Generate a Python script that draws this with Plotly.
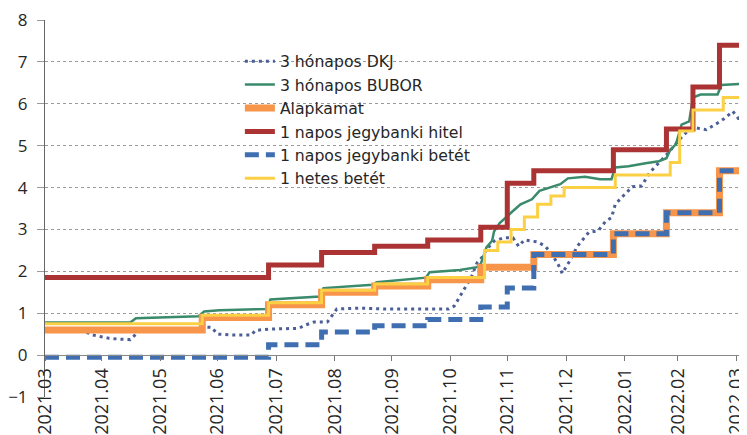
import plotly.graph_objects as go

# ---------------- data ----------------
tick_dates = ["2021-03-31", "2021-04-30", "2021-05-31", "2021-06-30", "2021-07-31",
              "2021-08-31", "2021-09-30", "2021-10-31", "2021-11-30", "2021-12-31",
              "2022-01-31", "2022-02-28", "2022-03-31"]
tick_labels = ["2021.03", "2021.04", "2021.05", "2021.06", "2021.07", "2021.08",
               "2021.09", "2021.10", "2021.11", "2021.12", "2022.01", "2022.02", "2022.03"]

dkj_dates = ["2021-03-31", "2021-04-21", "2021-04-24", "2021-04-29", "2021-05-04", "2021-05-10",
             "2021-05-15", "2021-05-18", "2021-05-20", "2021-06-20", "2021-06-24", "2021-06-27",
             "2021-06-30", "2021-07-09", "2021-07-18", "2021-07-20", "2021-07-27", "2021-08-04",
             "2021-08-12", "2021-08-15", "2021-08-20", "2021-08-27", "2021-08-29", "2021-09-01",
             "2021-09-13", "2021-09-28", "2021-10-14", "2021-10-30", "2021-11-02", "2021-11-05",
             "2021-11-08", "2021-11-11", "2021-11-14", "2021-11-17", "2021-11-19", "2021-11-23",
             "2021-11-28", "2021-12-03", "2021-12-06", "2021-12-09", "2021-12-16", "2021-12-20",
             "2021-12-23", "2021-12-27", "2021-12-29", "2022-01-02", "2022-01-06", "2022-01-12",
             "2022-01-17", "2022-01-21", "2022-01-24", "2022-01-26", "2022-01-31", "2022-02-04",
             "2022-02-09", "2022-02-13", "2022-02-18", "2022-02-23", "2022-03-01", "2022-03-05",
             "2022-03-10", "2022-03-15", "2022-03-21", "2022-03-25", "2022-03-29", "2022-04-01",
             "2022-04-05"]
dkj_values = [0.58, 0.58, 0.49, 0.45, 0.40, 0.38,
              0.37, 0.50, 0.58, 0.60, 0.67, 0.66,
              0.50, 0.48, 0.48, 0.59, 0.62, 0.63,
              0.64, 0.71, 0.79, 0.79, 0.91, 1.10,
              1.12, 1.10, 1.10, 1.10, 1.17, 1.39,
              1.62, 1.86, 2.20, 2.35, 2.52, 2.72,
              2.80, 2.80, 2.60, 2.75, 2.70, 2.60,
              2.45, 2.15, 1.95, 2.25, 2.60, 2.93,
              2.97, 3.20, 3.28, 3.60, 3.84, 4.02,
              4.04, 4.35, 4.59, 4.83, 5.15, 5.34,
              5.42, 5.38, 5.54, 5.66, 5.82, 5.65,
              5.64]

bubor_dates = ["2021-03-31", "2021-05-15", "2021-05-18", "2021-06-20", "2021-06-23", "2021-07-01",
               "2021-07-26", "2021-07-28", "2021-08-23", "2021-08-25", "2021-09-20", "2021-09-22",
               "2021-10-18", "2021-10-20", "2021-11-05", "2021-11-14", "2021-11-16", "2021-11-19",
               "2021-11-22", "2021-11-23", "2021-11-26", "2021-11-30", "2021-12-03", "2021-12-07",
               "2021-12-13", "2021-12-17", "2021-12-22", "2021-12-28", "2022-01-01", "2022-01-10",
               "2022-01-18", "2022-01-24", "2022-01-26", "2022-02-02", "2022-02-11", "2022-02-18",
               "2022-02-22", "2022-02-24", "2022-02-27", "2022-03-02", "2022-03-06", "2022-03-08",
               "2022-03-12", "2022-03-21", "2022-03-23", "2022-04-05"]
bubor_values = [0.78, 0.78, 0.88, 0.93, 1.04, 1.07,
                1.10, 1.33, 1.40, 1.60, 1.68, 1.74,
                1.85, 1.98, 2.03, 2.10, 2.18, 2.57,
                2.73, 2.95, 3.15, 3.33, 3.44, 3.60,
                3.72, 3.92, 4.00, 4.08, 4.22, 4.26,
                4.20, 4.20, 4.48, 4.51, 4.58, 4.63,
                4.70, 4.90, 5.03, 5.50, 5.58, 6.15,
                6.22, 6.22, 6.45, 6.48]

base_dates = ["2021-03-31", "2021-06-22", "2021-07-27", "2021-08-24", "2021-09-21", "2021-10-19",
              "2021-11-16", "2021-12-14", "2022-01-25", "2022-02-22", "2022-03-22", "2022-04-05"]
base_values = [0.60, 0.90, 1.20, 1.50, 1.65, 1.80, 2.10, 2.40, 2.90, 3.40, 4.40, 4.40]

loan_dates = ["2021-03-31", "2021-07-27", "2021-08-24", "2021-09-21", "2021-10-19", "2021-11-16",
              "2021-11-30", "2021-12-14", "2022-01-25", "2022-02-22", "2022-03-08", "2022-03-22",
              "2022-04-05"]
loan_values = [1.85, 2.15, 2.45, 2.60, 2.75, 3.05, 4.10, 4.40, 4.90, 5.40, 6.40, 7.40, 7.40]

ondep_dates = ["2021-03-31", "2021-07-27", "2021-08-24", "2021-09-21", "2021-10-19", "2021-11-16",
               "2021-11-30", "2021-12-14", "2022-01-25", "2022-02-22", "2022-03-22", "2022-04-05"]
ondep_values = [-0.05, 0.25, 0.55, 0.70, 0.85, 1.15, 1.60, 2.40, 2.90, 3.40, 4.40, 4.40]

week_dates = ["2021-03-31", "2021-06-22", "2021-07-27", "2021-08-24", "2021-09-21", "2021-10-19",
              "2021-11-18", "2021-11-25", "2021-12-02", "2021-12-09", "2021-12-16", "2021-12-23",
              "2021-12-30", "2022-01-26", "2022-02-24", "2022-03-01", "2022-03-08", "2022-03-24",
              "2022-04-05"]
week_values = [0.75, 0.95, 1.25, 1.55, 1.70, 1.85,
               2.50, 2.70, 3.00, 3.30, 3.60, 3.80,
               4.00, 4.30, 4.60, 5.35, 5.85, 6.15,
               6.15]

names = ["3 hónapos DKJ", "3 hónapos BUBOR", "Alapkamat", "1 napos jegybanki hitel",
         "1 napos jegybanki betét", "1 hetes betét"]

# ---------------- figure ----------------
FONT = "Open Sans, Lato, Arial, sans-serif"
LEGEND_FONT = "DejaVu Sans, Open Sans, sans-serif"
fig = go.Figure()

fig.add_trace(go.Scatter(x=dkj_dates, y=dkj_values, name=names[0], mode="lines",
                         line=dict(color="#4b5e95", width=3, dash="3px,4px")))
fig.add_trace(go.Scatter(x=bubor_dates, y=bubor_values, name=names[1], mode="lines",
                         line=dict(color="#3a8a6c", width=2.5)))
fig.add_trace(go.Scatter(x=base_dates, y=base_values, name=names[2], mode="lines",
                         line=dict(color="#f7954a", width=7, shape="hv")))
fig.add_trace(go.Scatter(x=loan_dates, y=loan_values, name=names[3], mode="lines",
                         line=dict(color="#ab3333", width=5, shape="hv")))
fig.add_trace(go.Scatter(x=ondep_dates, y=ondep_values, name=names[4], mode="lines",
                         line=dict(color="#3f6fb0", width=5, shape="hv", dash="14px,7px")))
fig.add_trace(go.Scatter(x=week_dates, y=week_values, name=names[5], mode="lines",
                         line=dict(color="#fbd045", width=3, shape="hv")))

# the page body has an 8px default margin: the figure is sized to fit inside it
fig.update_layout(
    width=739, height=427,
    margin=dict(l=37, r=0, t=10, b=38),
    paper_bgcolor="white", plot_bgcolor="white",
    font=dict(family=FONT, color="#262626"),
    showlegend=True,
    legend=dict(x=0.278, y=0.935, xanchor="left", yanchor="top",
                bgcolor="rgba(0,0,0,0)", borderwidth=0,
                font=dict(family=LEGEND_FONT, size=15.7, color="#262626"), itemwidth=30,
                traceorder="normal"),
    xaxis=dict(type="date", range=["2021-03-31", "2022-04-05"],
               anchor="free", position=1 / 9,
               tickmode="array", tickvals=tick_dates, ticktext=tick_labels,
               tickangle=-90, tickfont=dict(size=18, color="#262626"),
               ticklabeloverflow="allow",
               ticks="outside", ticklen=5, tickcolor="#777", tickwidth=1,
               showline=True, linecolor="#888", linewidth=1,
               showgrid=False, zeroline=False),
    yaxis=dict(range=[-1, 8], dtick=1, tick0=0,
               tickfont=dict(size=17, color="#262626"),
               ticklabeloverflow="allow",
               ticks="outside", ticklen=7, tickcolor="#999",
               showline=True, linecolor="#666", linewidth=1,
               showgrid=True, gridcolor="#9a9a9a", griddash="dot", gridwidth=1,
               zeroline=False, ticklabelstandoff=6),
)

fig.write_html("out.html")
